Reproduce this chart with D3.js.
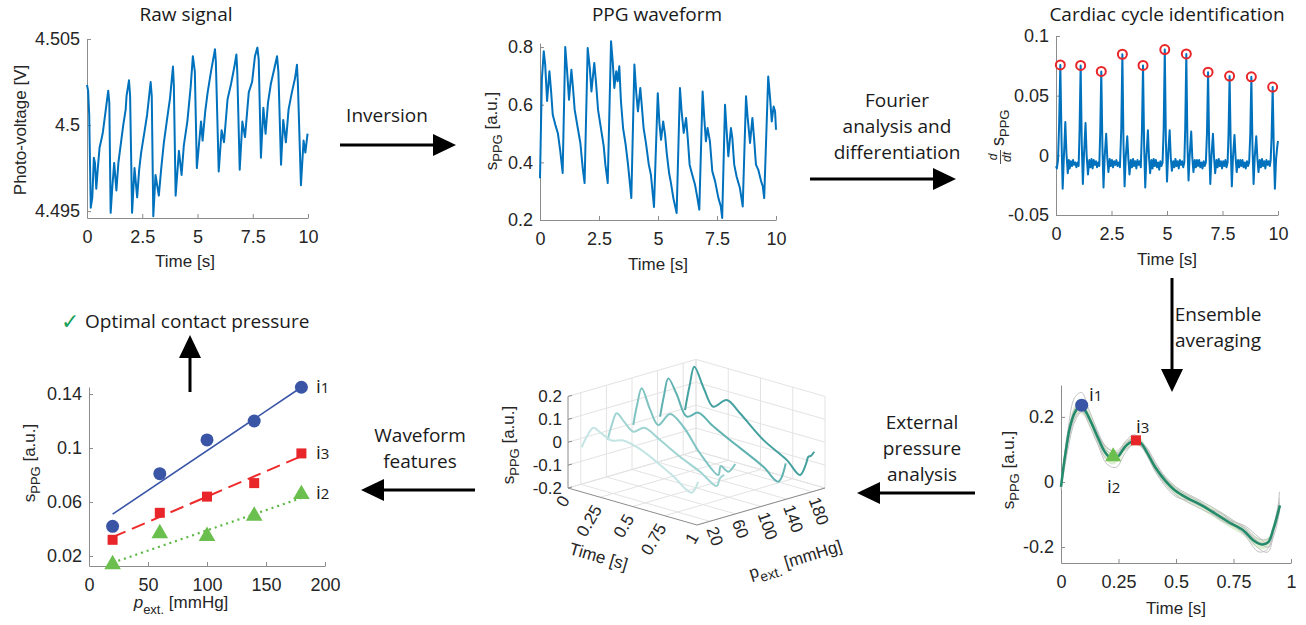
<!DOCTYPE html>
<html>
<head>
<meta charset="utf-8">
<script src="https://cdn.jsdelivr.net/npm/d3@7"></script>
<style>
body { margin: 0; background: #fff; }
svg { display: block; }
.tick text { font-family: "Liberation Sans", Arial, sans-serif; font-size: 18px; fill: #262626; }
.lab { font-family: "Liberation Sans", Arial, sans-serif; font-size: 17px; fill: #262626; }
.note { font-family: "Open Sans", sans-serif; font-size: 19px; fill: #1a1a1a; }
</style>
</head>
<body>
<svg id="fig" width="1306" height="625"></svg>
<script>
// ---- data ----
var rawSignal = [[0,4.50233],[0.05,4.5020],[0.1,4.5006],[0.14,4.4975],[0.17,4.4952],[0.24,4.4958],[0.31,4.4981],[0.36,4.4978],[0.42,4.4963],[0.49,4.4975],[0.57,4.4987],[0.66,4.4992],[0.72,4.4996],[0.84,4.5008],[0.96,4.5020],[1.01,4.5013],[1.07,4.4949],[1.14,4.4963],[1.23,4.4978],[1.33,4.4962],[1.42,4.4978],[1.52,4.4988],[1.64,4.5000],[1.75,4.5009],[1.79,4.5017],[1.9,4.5026],[1.95,4.5017],[2.04,4.4949],[2.15,4.4975],[2.27,4.4958],[2.36,4.4974],[2.45,4.4984],[2.6,4.4996],[2.72,4.5006],[2.88,4.5025],[2.93,4.5017],[3.0,4.4947],[3.1,4.4971],[3.25,4.4959],[3.36,4.4975],[3.48,4.4990],[3.63,4.5004],[3.76,4.5016],[3.89,4.5034],[3.93,4.5023],[4.01,4.4959],[4.16,4.4985],[4.28,4.4971],[4.38,4.4988],[4.54,4.5002],[4.69,4.5022],[4.79,4.5040],[4.88,4.5031],[4.97,4.4975],[5.16,4.5002],[5.23,4.4991],[5.35,4.5008],[5.46,4.5019],[5.61,4.5031],[5.79,4.5044],[5.83,4.5037],[5.96,4.4973],[6.09,4.4997],[6.2,4.4990],[6.36,4.5015],[6.52,4.5024],[6.67,4.5034],[6.76,4.5041],[6.8,4.5031],[6.91,4.4974],[7.03,4.5002],[7.15,4.4993],[7.32,4.5019],[7.47,4.5025],[7.6,4.5040],[7.71,4.5045],[7.77,4.5038],[7.87,4.4981],[7.98,4.5010],[8.08,4.4995],[8.19,4.5013],[8.32,4.5024],[8.48,4.5033],[8.6,4.5040],[8.66,4.5031],[8.78,4.4977],[8.88,4.5003],[9.0,4.4990],[9.12,4.5009],[9.27,4.5019],[9.41,4.5027],[9.5,4.5035],[9.54,4.5025],[9.68,4.4965],[9.8,4.4991],[9.88,4.4984],[9.98,4.4995]];

var ppgSignal = [[0,0.345],[0.08,0.69],[0.16,0.785],[0.22,0.739],[0.3,0.613],[0.4,0.716],[0.47,0.647],[0.54,0.565],[0.65,0.53],[0.76,0.50],[0.86,0.438],[0.96,0.363],[1.07,0.80],[1.14,0.727],[1.23,0.617],[1.33,0.721],[1.4,0.657],[1.47,0.582],[1.6,0.519],[1.71,0.467],[1.81,0.38],[1.89,0.328],[2.02,0.797],[2.11,0.727],[2.18,0.646],[2.3,0.745],[2.37,0.681],[2.46,0.582],[2.58,0.519],[2.7,0.456],[2.77,0.392],[2.87,0.328],[3.01,0.82],[3.08,0.75],[3.15,0.658],[3.23,0.716],[3.29,0.681],[3.36,0.733],[3.43,0.612],[3.52,0.519],[3.63,0.461],[3.73,0.392],[3.87,0.276],[4.0,0.739],[4.08,0.64],[4.15,0.577],[4.25,0.658],[4.31,0.6],[4.39,0.519],[4.49,0.467],[4.61,0.392],[4.7,0.357],[4.83,0.245],[4.99,0.64],[5.06,0.536],[5.13,0.478],[5.22,0.542],[5.3,0.496],[5.37,0.432],[5.47,0.363],[5.55,0.328],[5.65,0.276],[5.79,0.224],[5.93,0.658],[6.0,0.577],[6.09,0.502],[6.19,0.554],[6.26,0.484],[6.34,0.392],[6.45,0.357],[6.57,0.322],[6.67,0.276],[6.75,0.236],[6.89,0.646],[6.96,0.554],[7.03,0.473],[7.1,0.519],[7.2,0.473],[7.3,0.369],[7.42,0.334],[7.56,0.276],[7.66,0.248],[7.72,0.207],[7.84,0.6],[7.91,0.508],[7.98,0.421],[8.09,0.519],[8.15,0.484],[8.23,0.392],[8.33,0.351],[8.47,0.311],[8.59,0.247],[8.73,0.629],[8.8,0.554],[8.9,0.467],[9.0,0.554],[9.07,0.484],[9.15,0.392],[9.25,0.374],[9.37,0.334],[9.44,0.317],[9.5,0.276],[9.67,0.698],[9.75,0.623],[9.82,0.542],[9.9,0.594],[9.96,0.577],[10.0,0.513]];

var dSignal = [[0,-0.009],[0.04,-0.011],[0.09,-0.004],[0.14,0.025],[0.195,0.0758],[0.25,0.012],[0.3,-0.028],[0.35,-0.004],[0.42,0.028],[0.47,0.002],[0.53,-0.015],[0.58,-0.004],[0.62,-0.011],[0.67,-0.005],[0.72,-0.009],[0.77,-0.004],[0.82,-0.008],[0.87,-0.006],[0.92,-0.01],[0.97,-0.006],[1.02,-0.009],[1.06,0.02],
[1.11,0.0753],[1.16,0.01],[1.21,-0.024],[1.26,0.0],[1.33,0.027],[1.38,0.0],[1.44,-0.016],[1.5,-0.004],[1.55,-0.01],[1.6,-0.003],[1.65,-0.011],[1.7,-0.004],[1.75,-0.008],[1.8,-0.005],[1.85,-0.01],[1.9,-0.006],[1.95,-0.009],[1.99,0.018],
[2.04,0.0703],[2.09,0.008],[2.14,-0.027],[2.19,-0.002],[2.26,0.018],[2.31,-0.002],[2.36,-0.014],[2.42,-0.003],[2.47,-0.009],[2.52,-0.004],[2.57,-0.01],[2.62,-0.005],[2.67,-0.008],[2.72,-0.004],[2.77,-0.009],[2.82,-0.006],[2.88,-0.01],[2.94,0.022],
[2.99,0.0847],[3.04,0.01],[3.09,-0.026],[3.14,-0.002],[3.21,0.016],[3.26,-0.003],[3.31,-0.016],[3.37,-0.004],[3.42,-0.01],[3.47,-0.003],[3.52,-0.009],[3.57,-0.005],[3.62,-0.011],[3.67,-0.004],[3.72,-0.008],[3.77,-0.005],[3.82,-0.01],[3.87,0.02],
[3.92,0.0753],[3.97,0.008],[4.02,-0.027],[4.07,-0.002],[4.14,0.021],[4.19,-0.002],[4.24,-0.015],[4.3,-0.004],[4.35,-0.011],[4.4,-0.003],[4.45,-0.009],[4.5,-0.004],[4.55,-0.01],[4.6,-0.006],[4.65,-0.012],[4.7,-0.005],[4.75,-0.009],[4.8,-0.006],[4.85,0.022],
[4.9,0.0886],[4.95,0.012],[5.0,-0.022],[5.05,0.0],[5.12,0.021],[5.17,-0.002],[5.22,-0.013],[5.28,-0.005],[5.33,-0.01],[5.38,-0.003],[5.43,-0.009],[5.48,-0.005],[5.53,-0.011],[5.58,-0.004],[5.63,-0.008],[5.68,-0.005],[5.73,-0.01],[5.78,-0.006],[5.82,0.022],
[5.87,0.085],[5.92,0.01],[5.97,-0.021],[6.02,-0.001],[6.09,0.02],[6.14,-0.002],[6.19,-0.014],[6.25,-0.004],[6.3,-0.01],[6.35,-0.004],[6.4,-0.009],[6.45,-0.004],[6.5,-0.01],[6.55,-0.006],[6.6,-0.011],[6.65,-0.005],[6.7,-0.009],[6.75,-0.006],[6.8,0.018],
[6.85,0.0697],[6.9,0.008],[6.95,-0.024],[7.0,-0.002],[7.07,0.018],[7.12,-0.002],[7.17,-0.015],[7.23,-0.004],[7.28,-0.01],[7.33,-0.003],[7.38,-0.009],[7.43,-0.005],[7.48,-0.011],[7.53,-0.005],[7.58,-0.009],[7.63,-0.004],[7.68,-0.01],[7.73,-0.006],[7.77,0.017],
[7.82,0.0664],[7.87,0.008],[7.92,-0.026],[7.97,-0.002],[8.04,0.017],[8.09,-0.002],[8.14,-0.014],[8.2,-0.004],[8.25,-0.01],[8.3,-0.004],[8.35,-0.009],[8.4,-0.004],[8.45,-0.01],[8.5,-0.006],[8.55,-0.011],[8.6,-0.005],[8.65,-0.009],[8.7,-0.006],[8.75,0.017],
[8.8,0.0658],[8.85,0.008],[8.9,-0.024],[8.95,-0.002],[9.02,0.016],[9.07,-0.002],[9.12,-0.014],[9.18,-0.004],[9.23,-0.01],[9.28,-0.003],[9.33,-0.009],[9.38,-0.005],[9.43,-0.011],[9.48,-0.004],[9.53,-0.008],[9.58,-0.005],[9.63,-0.009],[9.67,-0.004],[9.71,0.015],
[9.76,0.0572],[9.81,0.006],[9.86,-0.028],[9.91,-0.004],[9.97,0.008],[10.0,0.012]];

var peakT = [0.195, 1.11, 2.04, 2.99, 3.92, 4.9, 5.87, 6.85, 7.82, 8.8, 9.76];
var peakV = [0.0758, 0.0753, 0.0703, 0.0847, 0.0753, 0.0886, 0.085, 0.0697, 0.0664, 0.0658, 0.0572];

var ensT    = [0, 0.017, 0.039, 0.061, 0.083, 0.104, 0.133, 0.162, 0.191, 0.22, 0.249, 0.278, 0.314, 0.343, 0.373, 0.409, 0.452, 0.496, 0.554, 0.612, 0.67, 0.728, 0.793, 0.836, 0.873, 0.901, 0.923, 0.952];
var ensMean = [-0.015, 0.077, 0.169, 0.215, 0.233, 0.22, 0.18, 0.134, 0.092, 0.072, 0.079, 0.108, 0.126, 0.123, 0.092, 0.046, 0.005, -0.026, -0.051, -0.072, -0.097, -0.123, -0.149, -0.179, -0.192, -0.185, -0.145, -0.072];
var ensSd   = [0.01, 0.016, 0.022, 0.022, 0.022, 0.022, 0.022, 0.022, 0.02, 0.018, 0.016, 0.014, 0.014, 0.014, 0.014, 0.013, 0.013, 0.013, 0.013, 0.013, 0.014, 0.014, 0.015, 0.015, 0.015, 0.015, 0.017, 0.017];
var cycT = [0, 0.03, 0.06, 0.09, 0.12, 0.16, 0.2, 0.24, 0.28, 0.32, 0.36, 0.42, 0.5, 0.6, 0.7, 0.8, 0.86, 0.9, 0.93, 0.95];
var cycles = [
  [-0.01, 0.16, 0.26, 0.275, 0.225, 0.155, 0.095, 0.085, 0.115, 0.135, 0.115, 0.045, -0.015, -0.055, -0.095, -0.145, -0.185, -0.2, -0.155, -0.09],
  [-0.025, 0.1, 0.185, 0.215, 0.19, 0.145, 0.105, 0.095, 0.12, 0.135, 0.1, 0.025, -0.04, -0.08, -0.115, -0.16, -0.205, -0.215, -0.12, -0.05],
  [-0.015, 0.115, 0.195, 0.22, 0.18, 0.115, 0.055, 0.045, 0.09, 0.118, 0.1, 0.04, -0.02, -0.06, -0.105, -0.14, -0.175, -0.175, -0.14, -0.085],
  [0.0, 0.145, 0.225, 0.245, 0.205, 0.15, 0.105, 0.09, 0.1, 0.12, 0.115, 0.05, -0.03, -0.072, -0.098, -0.165, -0.215, -0.205, -0.13, -0.06],
  [-0.02, 0.125, 0.205, 0.23, 0.205, 0.14, 0.08, 0.07, 0.105, 0.13, 0.1, 0.02, -0.045, -0.065, -0.12, -0.15, -0.185, -0.185, -0.125, -0.065],
  [-0.01, 0.135, 0.22, 0.25, 0.2, 0.125, 0.07, 0.08, 0.125, 0.145, 0.11, 0.035, -0.025, -0.07, -0.11, -0.135, -0.17, -0.19, -0.14, -0.03]
];
var featT = [0.09, 0.227, 0.326];     // i1, i2, i3
var featV = [0.236, 0.075, 0.128];

var pressures = [20, 60, 100, 140, 180];
var traces3d = [
  [[0.007,-0.037],[0.05,0.02],[0.097,0.063],[0.16,0.048],[0.24,0.03],[0.33,0.045],[0.46,0.028],[0.59,-0.008],[0.72,-0.05],[0.857,-0.098],[0.91,-0.041]],
  [[0.01,-0.037],[0.045,0.04],[0.08,0.091],[0.14,0.062],[0.209,0.031],[0.294,0.062],[0.416,0.028],[0.571,-0.02],[0.726,-0.06],[0.855,-0.102],[0.88,-0.064],[0.914,-0.044]],
  [[0.01,-0.004],[0.04,0.09],[0.075,0.167],[0.14,0.085],[0.204,0.027],[0.295,0.09],[0.398,0.051],[0.527,-0.044],[0.669,-0.116],[0.688,-0.074],[0.747,-0.089],[0.8,-0.047]],
  [[0.019,0.001],[0.05,0.1],[0.083,0.179],[0.148,0.12],[0.226,0.035],[0.316,0.067],[0.42,0.03],[0.561,-0.013],[0.82,-0.088],[0.936,-0.134],[0.993,-0.045]],
  [[0.014,-0.003],[0.05,0.11],[0.086,0.198],[0.16,0.115],[0.233,0.047],[0.337,0.093],[0.44,0.052],[0.621,-0.035],[0.802,-0.093],[0.905,-0.142],[0.95,-0.09],[0.97,-0.052],[0.99,-0.045],[1.016,-0.023]]
];
var traceColors = ["#c4e5e4", "#9fd4d2", "#7fc4c2", "#60b2b1", "#45a1a0"];

var fitP  = [20, 60, 100, 140, 180];
var i1Val = [0.042, 0.081, 0.106, 0.120, 0.145];
var i3Val = [0.032, 0.052, 0.064, 0.074, 0.096];
var i2Val = [0.013, 0.036, 0.034, 0.049, 0.065];
var i1Fit = [0.051, 0.145];
var i3Fit = [0.034, 0.094];
var i2Fit = [0.015, 0.063];

// ---- drawing ----
var svg = d3.select("#fig");
svg.append("rect").attr("width", 1306).attr("height", 625).attr("fill", "#fff");
var AX = "#8c8c8c", BLUE = "#0072bd";

function axes(x, y, xt, yt) {
    var g = svg.append("g");
    g.append("g").attr("transform", "translate(0," + y.range()[0] + ")")
        .call(d3.axisBottom(x).tickValues(xt).tickFormat(String).tickSizeInner(-4).tickSizeOuter(0).tickPadding(12));
    g.append("g").attr("transform", "translate(" + x.range()[0] + ",0)")
        .call(d3.axisLeft(y).tickValues(yt).tickFormat(String).tickSizeInner(-4).tickSizeOuter(0).tickPadding(7));
    g.selectAll(".domain,.tick line").attr("stroke", AX);
    g.selectAll("g").attr("font-family", null).attr("font-size", null);
    return g;
}

// parts: {t, dy, small, it}
function label(x, y, ang, parts, size) {
    var t = svg.append("text").attr("class", "lab").attr("text-anchor", "middle")
        .attr("transform", "translate(" + x + "," + y + ") rotate(" + ang + ")");
    if (size) t.attr("font-size", size + "px");
    parts.forEach(function(p) {
        var s = t.append("tspan").text(p.t);
        if (p.dy) s.attr("dy", p.dy);
        if (p.small) s.attr("font-size", Math.round((size || 17) * 0.72) + "px");
        if (p.it) s.style("font-style", "italic");
    });
    return t;
}
function sppg(x, y, ang, size) {
    return label(x, y, ang, [{t: "s"}, {t: "PPG", dy: 5, small: true}, {t: " [a.u.]", dy: -5}], size);
}

function note(x, y, lines) {
    lines.forEach(function(s, i) {
        svg.append("text").attr("class", "note").attr("x", x).attr("y", y + i * 26)
            .attr("text-anchor", "middle").text(s);
    });
}

function arrow(x1, y1, x2, y2) {
    var a = Math.atan2(y2 - y1, x2 - x1), hl = 23, hw = 11;
    var bx = x2 - hl * Math.cos(a), by = y2 - hl * Math.sin(a);
    svg.append("line").attr("x1", x1).attr("y1", y1).attr("x2", bx).attr("y2", by)
        .attr("stroke", "#000").attr("stroke-width", 3);
    svg.append("path").attr("fill", "#000")
        .attr("d", "M" + x2 + "," + y2 + "L" + (bx + hw * Math.sin(a)) + "," + (by - hw * Math.cos(a)) +
            "L" + (bx - hw * Math.sin(a)) + "," + (by + hw * Math.cos(a)) + "Z");
}

function xy(x, y) { return d3.line().x(function(d) { return x(d[0]); }).y(function(d) { return y(d[1]); }); }

// Raw signal
var xr = d3.scaleLinear().domain([0, 10]).range([87, 308]);
var yr = d3.scaleLinear().domain([4.4946, 4.505]).range([218, 39]);
axes(xr, yr, [0, 2.5, 5, 7.5, 10], [4.495, 4.5, 4.505]);
svg.append("path").datum(rawSignal).attr("d", xy(xr, yr)).attr("fill", "none")
    .attr("stroke", BLUE).attr("stroke-width", 2).attr("stroke-linejoin", "round");
svg.append("text").attr("class", "note").attr("x", 186).attr("y", 21).attr("text-anchor", "middle").text("Raw signal");
label(185, 267, 0, [{t: "Time [s]"}]);
label(26, 130, -90, [{t: "Photo-voltage [V]"}], 17.5);

// PPG waveform
var xp = d3.scaleLinear().domain([0, 10]).range([540, 776]);
var yp = d3.scaleLinear().domain([0.2, 0.814]).range([220, 43]);
axes(xp, yp, [0, 2.5, 5, 7.5, 10], [0.2, 0.4, 0.6, 0.8]);
svg.append("path").datum(ppgSignal).attr("d", xy(xp, yp)).attr("fill", "none")
    .attr("stroke", BLUE).attr("stroke-width", 2).attr("stroke-linejoin", "round");
svg.append("text").attr("class", "note").attr("x", 657).attr("y", 21).attr("text-anchor", "middle").text("PPG waveform");
label(658, 270, 0, [{t: "Time [s]"}]);
sppg(497, 131, -90, 18);

// Cardiac cycle identification
var xd = d3.scaleLinear().domain([0, 10]).range([1056, 1278]);
var yd = d3.scaleLinear().domain([-0.05, 0.1]).range([215, 36]);
axes(xd, yd, [0, 2.5, 5, 7.5, 10], [-0.05, 0, 0.05, 0.1]);
svg.append("path").datum(dSignal).attr("d", xy(xd, yd)).attr("fill", "none")
    .attr("stroke", BLUE).attr("stroke-width", 2).attr("stroke-linejoin", "round");
svg.selectAll(".pk").data(peakT).enter().append("circle")
    .attr("cx", function(d) { return xd(d); }).attr("cy", function(d, i) { return yd(peakV[i]); })
    .attr("r", 4.5).attr("fill", "none").attr("stroke", "#e8262a").attr("stroke-width", 2);
svg.append("text").attr("class", "note").attr("x", 1167).attr("y", 21).attr("text-anchor", "middle")
    .attr("font-size", "19.5px").text("Cardiac cycle identification");
label(1167, 265, 0, [{t: "Time [s]"}]);
(function() {
    var g = svg.append("g").attr("transform", "translate(1004,126) rotate(-90)").attr("class", "lab");
    g.append("text").attr("x", -31).attr("y", -7).attr("text-anchor", "middle").attr("font-size", "12px")
        .style("font-style", "italic").text("d");
    g.append("line").attr("x1", -38).attr("x2", -24).attr("y1", -3.5).attr("y2", -3.5).attr("stroke", "#262626").attr("stroke-width", 0.8);
    g.append("text").attr("x", -31).attr("y", 7).attr("text-anchor", "middle").attr("font-size", "12px")
        .style("font-style", "italic").text("dt");
    var t = g.append("text").attr("x", -20).attr("y", 0).attr("font-size", "18px");
    t.append("tspan").text("s");
    t.append("tspan").attr("dy", 5).attr("font-size", "13px").text("PPG");
})();

// Ensemble averaging
var xe = d3.scaleLinear().domain([0, 1]).range([1061, 1291]);
var ye = d3.scaleLinear().domain([-0.249, 0.298]).range([563, 385]);
axes(xe, ye, [0, 0.25, 0.5, 0.75, 1], [-0.2, 0, 0.2]);
var curve = d3.curveCatmullRom;
svg.append("path").datum(ensT).attr("fill", "#c4e3b0").attr("fill-opacity", 0.6)
    .attr("d", d3.area().curve(curve).x(function(d) { return xe(d); })
        .y0(function(d, i) { return ye(ensMean[i] - ensSd[i]); })
        .y1(function(d, i) { return ye(ensMean[i] + ensSd[i]); }));
cycles.forEach(function(c) {
    svg.append("path").datum(c).attr("fill", "none").attr("stroke", "#c2c2c2").attr("stroke-width", 1)
        .attr("d", d3.line().curve(curve).x(function(d, i) { return xe(cycT[i]); }).y(function(d) { return ye(d); }));
});
svg.append("path").datum(ensT).attr("fill", "none").attr("stroke", "#238b6b").attr("stroke-width", 2.5)
    .attr("d", d3.line().curve(curve).x(function(d) { return xe(d); }).y(function(d, i) { return ye(ensMean[i]); }));
svg.append("circle").attr("cx", xe(featT[0])).attr("cy", ye(featV[0])).attr("r", 6.5).attr("fill", "#3a55a6");
svg.append("path").attr("d", d3.symbol().type(d3.symbolTriangle).size(110)())
    .attr("transform", "translate(" + xe(featT[1]) + "," + (ye(featV[1]) - 1) + ")").attr("fill", "#6bbf4e");
svg.append("rect").attr("x", xe(featT[2]) - 5).attr("y", ye(featV[2]) - 5).attr("width", 10).attr("height", 10).attr("fill", "#e8262a");
label(1176, 614, 0, [{t: "Time [s]"}]);
sppg(1014, 470, -90, 18);

function iLabel(x, y, n) {
    var t = svg.append("text").attr("class", "note").attr("x", x).attr("y", y).attr("font-size", "22px");
    t.append("tspan").text("i");
    t.append("tspan").attr("font-size", "15px").text(n);
}
iLabel(1089, 401, "1");
iLabel(1136, 433, "3");
iLabel(1107, 493, "2");

// 3D waterfall of averaged waveforms
var O3 = [568, 488], TV = [129, 37], PV = [128, -37];
var t3 = d3.scaleLinear().domain([0, 1]).range([0, 1]);
var p3 = d3.scaleLinear().domain([0, 200]).range([0, 1]);
var z3 = d3.scaleLinear().domain([-0.2, 0.2]).range([0, 91.6]);
function P3(t, p, z) {
    var a = t3(t), b = p3(p);
    return [O3[0] + a * TV[0] + b * PV[0], O3[1] + a * TV[1] + b * PV[1] - z3(z)];
}
var tT = [0, 0.25, 0.5, 0.75, 1], zT = [-0.2, -0.1, 0, 0.1, 0.2];
var grid = svg.append("g").attr("stroke", "#e3e3e3").attr("stroke-width", 1).attr("fill", "none");
function seg(g, a, b) { g.append("line").attr("x1", a[0]).attr("y1", a[1]).attr("x2", b[0]).attr("y2", b[1]); }
tT.forEach(function(t) { seg(grid, P3(t, 0, -0.2), P3(t, 200, -0.2)); seg(grid, P3(t, 200, -0.2), P3(t, 200, 0.2)); });
pressures.concat([200]).forEach(function(p) { seg(grid, P3(0, p, -0.2), P3(1, p, -0.2)); seg(grid, P3(0, p, -0.2), P3(0, p, 0.2)); });
zT.forEach(function(z) { seg(grid, P3(0, 0, z), P3(0, 200, z)); seg(grid, P3(0, 200, z), P3(1, 200, z)); });
var ax3 = svg.append("g").attr("stroke", AX).attr("stroke-width", 1);
seg(ax3, P3(0, 0, -0.2), P3(0, 0, 0.2));
seg(ax3, P3(0, 0, -0.2), P3(1, 0, -0.2));
seg(ax3, P3(1, 0, -0.2), P3(1, 200, -0.2));
zT.forEach(function(z) { var a = P3(0, 0, z); seg(ax3, a, [a[0] + 4, a[1] - 1]); });
zT.forEach(function(z) {
    var a = P3(0, 0, z);
    svg.append("text").attr("class", "lab").attr("font-size", "18px").attr("x", a[0] - 6).attr("y", a[1])
        .attr("dy", "0.35em").attr("text-anchor", "end").text(String(z));
});
tT.forEach(function(t) {
    var a = P3(t, 0, -0.2);
    svg.append("text").attr("class", "lab").attr("font-size", "18px").attr("text-anchor", "end").attr("dy", "0.35em")
        .attr("transform", "translate(" + (a[0] - 3) + "," + (a[1] + 9) + ") rotate(-60)").text(String(t));
});
pressures.forEach(function(p) {
    var a = P3(1, p, -0.2);
    svg.append("text").attr("class", "lab").attr("font-size", "18px").attr("text-anchor", "start").attr("dy", "0.35em")
        .attr("transform", "translate(" + (a[0] + 2) + "," + (a[1] + 6) + ") rotate(70)").text(String(p));
});
traces3d.slice().reverse().forEach(function(tr, k) {
    var i = traces3d.length - 1 - k, p = pressures[i];
    svg.append("path").datum(tr).attr("fill", "none").attr("stroke", traceColors[i]).attr("stroke-width", 2)
        .attr("stroke-linejoin", "round")
        .attr("d", d3.line().curve(d3.curveCatmullRom)
            .x(function(d) { return P3(d[0], p, d[1])[0]; }).y(function(d) { return P3(d[0], p, d[1])[1]; }));
});
label(597, 562, 16, [{t: "Time [s]"}], 18);
label(797, 565, -17, [{t: "p"}, {t: "ext.", dy: 6, small: true}, {t: " [mmHg]", dy: -6}], 19);
sppg(514, 445, -90, 18);

// Waveform features vs external pressure
var xf = d3.scaleLinear().domain([0, 200]).range([89, 325]);
var yf = d3.scaleLinear().domain([0.0126, 0.1452]).range([566, 387]);
axes(xf, yf, [0, 50, 100, 150, 200], [0.02, 0.06, 0.1, 0.14]);
var fx = [fitP[0], fitP[fitP.length - 1]];
function fitLine(v, col, w, dash) {
    svg.append("line").attr("x1", xf(fx[0])).attr("x2", xf(fx[1])).attr("y1", yf(v[0])).attr("y2", yf(v[1]))
        .attr("stroke", col).attr("stroke-width", w).attr("stroke-dasharray", dash);
}
fitLine(i1Fit, "#3a55a6", 1.6, null);
fitLine(i3Fit, "#ee2a2a", 2, "14,7");
fitLine(i2Fit, "#5cb843", 2.2, "2,4");
fitP.forEach(function(p, i) {
    svg.append("circle").attr("cx", xf(p)).attr("cy", yf(i1Val[i])).attr("r", 6.5).attr("fill", "#3a55a6");
    svg.append("rect").attr("x", xf(p) - 5).attr("y", yf(i3Val[i]) - 5).attr("width", 10).attr("height", 10).attr("fill", "#e8262a");
    svg.append("path").attr("d", d3.symbol().type(d3.symbolTriangle).size(120)())
        .attr("transform", "translate(" + xf(p) + "," + (yf(i2Val[i]) - 1) + ")").attr("fill", "#6bbf4e");
});
iLabel(316, 393, "1");
iLabel(316, 459, "3");
iLabel(316, 499, "2");
label(181, 608, 0, [{t: "p", it: true}, {t: "ext.", dy: 6, small: true}, {t: " [mmHg]", dy: -6}], 18);
sppg(35, 463, -90, 18);

svg.append("text").attr("x", 61).attr("y", 329).attr("font-family", "DejaVu Sans").attr("font-size", "22px")
    .attr("fill", "#19a05a").text("\u2713");
svg.append("text").attr("class", "note").attr("x", 85).attr("y", 328).attr("font-size", "21.5px").text("Optimal contact pressure");

// flow arrows and captions
arrow(340, 145, 456, 145);
note(387, 122, ["Inversion"]);
arrow(810, 179, 956, 179);
note(897, 107, ["Fourier", "analysis and", "differentiation"]);
arrow(1172, 278, 1172, 392);
note(1218, 321, ["Ensemble", "averaging"]);
arrow(975, 493, 857, 493);
note(922, 429, ["External", "pressure", "analysis"]);
arrow(475, 490, 361, 490);
note(420, 442, ["Waveform", "features"]);
arrow(190, 392, 190, 335);
</script>
</body>
</html>
